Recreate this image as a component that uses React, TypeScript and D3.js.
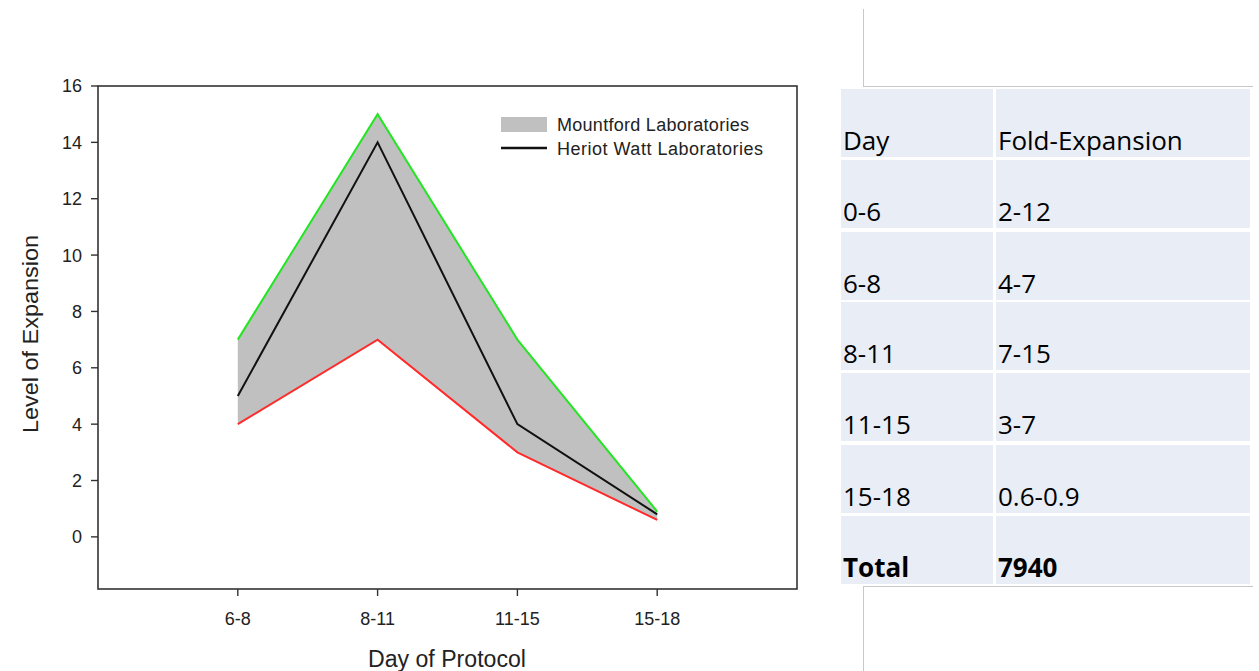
import React from "react";
import * as d3 from "d3";

const categories = ["6-8", "8-11", "11-15", "15-18"];
const mountfordUpper = [7, 15, 7, 0.9];
const mountfordLower = [4, 7, 3, 0.6];
const heriotWatt = [5, 14, 4, 0.8];
const yTicks = [0, 2, 4, 6, 8, 10, 12, 14, 16];

const tableHeader = ["Day", "Fold-Expansion"];
const tableDays = ["0-6", "6-8", "8-11", "11-15", "15-18", "Total"];
const tableFold = ["2-12", "4-7", "7-15", "3-7", "0.6-0.9", "7940"];

const W = 1259;
const H = 671;
const L = 98, R = 797, T = 86, B = 589;

export default function App() {
  const x = d3.scaleLinear().domain([0, categories.length + 1]).range([L, R]);
  const y = d3.scaleLinear().domain([-1.85, 16]).range([B, T]);
  const idx = categories.map((_, i) => i + 1);

  const area = d3
    .area<number>()
    .x((i) => x(i + 1))
    .y0((i) => y(mountfordLower[i]))
    .y1((i) => y(mountfordUpper[i]));
  const lineOf = (arr: number[]) =>
    d3
      .line<number>()
      .x((i) => x(i + 1))
      .y((i) => y(arr[i]))(categories.map((_, i) => i)) as string;

  const font = "Arial, 'Liberation Sans', sans-serif";
  const axisColor = "#333";
  const tableFont = "'Open Sans', Lato, sans-serif";

  // table geometry
  const rowTops = [89, 160, 232, 302, 373, 445, 516];
  const rowH = 68;
  const col1X = 841, col1W = 152, col2X = 996, col2W = 254;
  const rows = [tableHeader, ...tableDays.map((d, i) => [d, tableFold[i]])];

  return (
    <svg
      width={W}
      height={H}
      style={{ position: "absolute", left: 0, top: 0, background: "#fff" }}
    >
      <rect x={0} y={0} width={W} height={H} fill="#fff" />
      {/* band */}
      <path d={area(categories.map((_, i) => i)) as string} fill="#c0c0c0" />
      <path d={lineOf(mountfordUpper)} fill="none" stroke="#22e622" strokeWidth={2} />
      <path d={lineOf(mountfordLower)} fill="none" stroke="#ff2a2a" strokeWidth={2} />
      <path d={lineOf(heriotWatt)} fill="none" stroke="#111" strokeWidth={2} />

      {/* frame */}
      <rect x={L} y={T} width={R - L} height={B - T} fill="none" stroke={axisColor} strokeWidth={1.6} />

      {/* y ticks */}
      {yTicks.map((t) => (
        <g key={t}>
          <line x1={L - 7} x2={L} y1={y(t)} y2={y(t)} stroke={axisColor} strokeWidth={1.4} />
          <text
            x={L - 16}
            y={y(t)}
            dy="0.36em"
            textAnchor="end"
            fontFamily={font}
            fontSize={18}
            fill="#222"
          >
            {t}
          </text>
        </g>
      ))}

      {/* x ticks */}
      {idx.map((v, i) => (
        <g key={categories[i]}>
          <line x1={x(v)} x2={x(v)} y1={B} y2={B + 7} stroke={axisColor} strokeWidth={1.4} />
          <text
            x={x(v)}
            y={625}
            textAnchor="middle"
            fontFamily={font}
            fontSize={18}
            fill="#222"
          >
            {categories[i]}
          </text>
        </g>
      ))}

      {/* axis titles */}
      <text
        x={447}
        y={667}
        textAnchor="middle"
        fontFamily={font}
        fontSize={23}
        textLength={158}
        lengthAdjust="spacingAndGlyphs"
        fill="#222"
      >
        Day of Protocol
      </text>
      <text
        transform={`translate(38, 334) rotate(-90)`}
        textAnchor="middle"
        fontFamily={font}
        fontSize={22}
        textLength={198}
        lengthAdjust="spacingAndGlyphs"
        fill="#222"
      >
        Level of Expansion
      </text>

      {/* legend */}
      <rect x={501} y={117} width={46} height={15} fill="#c0c0c0" />
      <text x={557} y={131} fontFamily={font} fontSize={18} textLength={192} lengthAdjust="spacing" fill="#222">
        Mountford Laboratories
      </text>
      <line x1={501} x2={547} y1={148} y2={148} stroke="#111" strokeWidth={2.5} />
      <text x={557} y={155} fontFamily={font} fontSize={18} textLength={206} lengthAdjust="spacing" fill="#222">
        Heriot Watt Laboratories
      </text>

      {/* table decorations */}
      <line x1={863.5} x2={863.5} y1={9} y2={86} stroke="#c8c8c8" strokeWidth={1} />
      <line x1={863} x2={1253} y1={86.5} y2={86.5} stroke="#c8c8c8" strokeWidth={1} />
      <line x1={863} x2={1253} y1={586.5} y2={586.5} stroke="#c8c8c8" strokeWidth={1} />
      <line x1={863.5} x2={863.5} y1={586} y2={671} stroke="#c8c8c8" strokeWidth={1} />

      {/* table */}
      {rows.map((r, i) => {
        const top = rowTops[i];
        const bold = r[0] === "Total";
        return (
          <g key={i}>
            <rect x={col1X} y={top} width={col1W} height={rowH} fill="#e9edf5" />
            <rect x={col2X} y={top} width={col2W} height={rowH} fill="#e9edf5" />
            <text
              x={843}
              y={top + rowH - 7}
              fontFamily={tableFont}
              fontSize={26}
              fontWeight={bold ? 700 : 400}
              fill="#000"
            >
              {r[0]}
            </text>
            <text
              x={998}
              y={top + rowH - 7}
              fontFamily={tableFont}
              fontSize={26}
              fontWeight={bold ? 700 : 400}
              fill="#000"
            >
              {r[1]}
            </text>
          </g>
        );
      })}
    </svg>
  );
}
